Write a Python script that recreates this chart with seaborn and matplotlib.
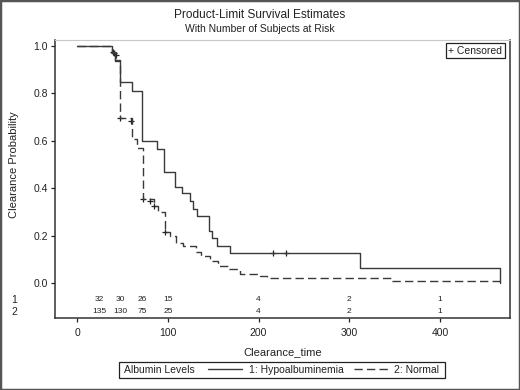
import pandas as pd
import matplotlib.pyplot as plt
import matplotlib.patches as patches
from matplotlib.lines import Line2D
import seaborn as sns

sns.set_style("white")
plt.rcParams['font.family'] = ['Liberation Sans', 'DejaVu Sans']

# Kaplan-Meier step values
hypo_time = [0, 38, 42, 47.5, 60.5, 71.5, 87.5, 96, 108, 115.5, 124, 127.5, 132, 145, 148.5, 154, 168, 312, 466]
hypo_surv = [1.0, 0.974, 0.938, 0.849, 0.811, 0.598, 0.566, 0.471, 0.406, 0.380, 0.347, 0.315, 0.284, 0.221, 0.190, 0.157, 0.128, 0.066, 0.0]
norm_time = [0, 38, 42, 47, 60, 65.5, 72, 85, 89, 96.5, 102, 108.5, 117, 131, 137, 146, 155.5, 167.5, 179.5, 201.5, 209, 347.5, 466]
norm_surv = [1.0, 0.97, 0.94, 0.695, 0.608, 0.572, 0.354, 0.324, 0.301, 0.218, 0.200, 0.172, 0.158, 0.130, 0.116, 0.094, 0.073, 0.059, 0.038, 0.031, 0.022, 0.010, 0.0]

# censored observations
cens_hypo_time = [39, 216, 230]
cens_hypo_surv = [0.974, 0.128, 0.128]
cens_norm_time = [40, 43, 47, 59, 72, 80, 85, 96.5]
cens_norm_surv = [0.97, 0.96, 0.695, 0.685, 0.354, 0.348, 0.324, 0.218]

# number at risk
risk_times = [24, 48, 72, 100, 200, 300, 400]
risk_hypo = [32, 30, 26, 15, 4, 2, 1]
risk_norm = [135, 130, 75, 25, 4, 2, 1]

grp1 = '1: Hypoalbuminemia'
grp2 = '2: Normal'
df = pd.concat([
    pd.DataFrame({'time': hypo_time, 'surv': hypo_surv, 'grupo': grp1}),
    pd.DataFrame({'time': norm_time, 'surv': norm_surv, 'grupo': grp2}),
])
df_cens = pd.concat([
    pd.DataFrame({'time': cens_hypo_time, 'surv': cens_hypo_surv, 'grupo': grp1}),
    pd.DataFrame({'time': cens_norm_time, 'surv': cens_norm_surv, 'grupo': grp2}),
])

line_col = '#3a3a3a'
fig = plt.figure(figsize=(5.2, 3.9), dpi=100)
ax = fig.add_axes([55 / 520, 1 - 318 / 390, 455 / 520, 278 / 390])

sns.lineplot(data=df, x='time', y='surv', style='grupo', estimator=None, sort=False,
             drawstyle='steps-post', color=line_col, linewidth=1.0,
             dashes={grp1: '', grp2: (6, 3)}, legend=False, ax=ax)
sns.scatterplot(data=df_cens, x='time', y='surv', marker='+', color='#222222',
                s=22, linewidth=0.9, legend=False, ax=ax)

ax.set_xlim(-24.6, 477.3)
ax.set_ylim(-0.146, 1.025)
ax.set_xticks([0, 100, 200, 300, 400])
ax.set_yticks([0.0, 0.2, 0.4, 0.6, 0.8, 1.0])
ax.set_yticklabels(['0.0', '0.2', '0.4', '0.6', '0.8', '1.0'])
ax.tick_params(axis='both', direction='out', length=3, width=0.9, labelsize=7.5,
               colors='#222222', pad=2, left=True, bottom=True)
ax.tick_params(axis='x', pad=4)

for side in ['left', 'bottom', 'right']:
    ax.spines[side].set_color('#333333')
    ax.spines[side].set_linewidth(1.1)
ax.spines['top'].set_color('#c8c8c8')
ax.spines['top'].set_linewidth(0.8)

ax.set_xlabel('Clearance_time', fontsize=8, color='#222222', labelpad=7)
ax.set_ylabel('Clearance Probability', fontsize=8, color='#222222')
ax.yaxis.set_label_coords(-0.079, 0.552)

# number at risk rows
ytr = ax.get_yaxis_transform()
ax.text(-0.09, -0.070, '1', transform=ytr, ha='center', va='center', fontsize=7.5, color='#222222')
ax.text(-0.09, -0.119, '2', transform=ytr, ha='center', va='center', fontsize=7.5, color='#222222')
for t, n1, n2 in zip(risk_times, risk_hypo, risk_norm):
    ax.text(t, -0.070, str(n1), ha='center', va='center', fontsize=6, color='#222222')
    ax.text(t, -0.119, str(n2), ha='center', va='center', fontsize=6, color='#222222')

# censored key
ax.text(0.924, 0.962, '+ Censored', transform=ax.transAxes, ha='center', va='center',
        fontsize=7.5, color='#222222',
        bbox=dict(boxstyle='square,pad=0.25', fc='white', ec='#222222', lw=0.9))

# titles
fig.text(0.5, 1 - 15 / 390, 'Product-Limit Survival Estimates', ha='center', va='center',
         fontsize=8.6, color='#222222')
fig.text(0.5, 1 - 29 / 390, 'With Number of Subjects at Risk', ha='center', va='center',
         fontsize=7.5, color='#222222')

# bottom legend
fig.patches.append(patches.Rectangle((119 / 520, 12 / 390), 326 / 520, 16 / 390,
                                     transform=fig.transFigure, fill=False,
                                     ec='#222222', lw=0.9))
fig.text(124 / 520, 20 / 390, 'Albumin Levels', ha='left', va='center', fontsize=7.5, color='#222222')
handles = [Line2D([], [], color=line_col, lw=1.0),
           Line2D([], [], color=line_col, lw=1.0, dashes=(6, 3))]
fig.legend(handles, [grp1, grp2], loc='center left', bbox_to_anchor=(208 / 520, 20 / 390),
           ncol=2, frameon=False, fontsize=7.5, handlelength=3.3, handletextpad=0.6,
           columnspacing=1.0, borderpad=0, borderaxespad=0, labelcolor='#222222')

# outer frame
fig.patches.append(patches.Rectangle((0, 0), 1, 1, transform=fig.transFigure, fill=False,
                                     ec='#555555', lw=2.5))

plt.savefig('out.png', dpi=100)
plt.close()
